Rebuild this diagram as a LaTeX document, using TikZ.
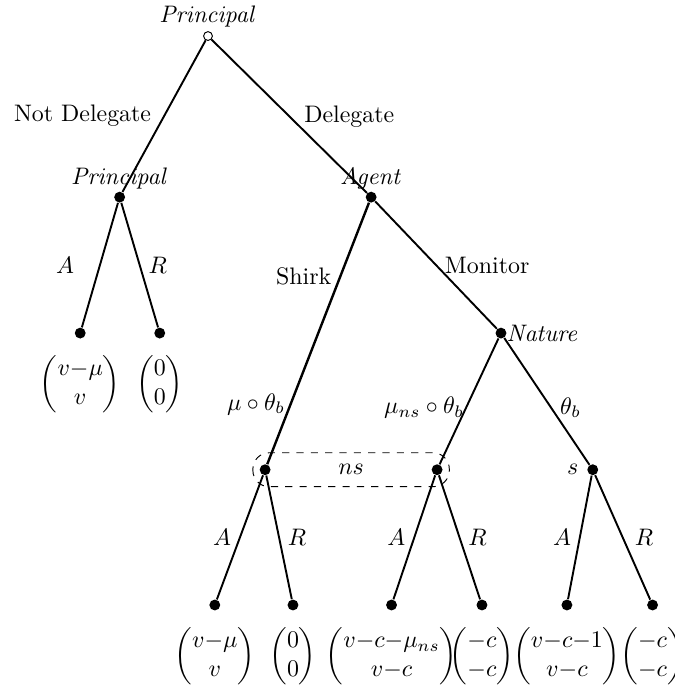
\documentclass[tikz,border=0pt]{standalone}
\usepackage{amsmath}
\usetikzlibrary{calc}
\begin{document}
\begin{tikzpicture}[
    dot/.style={circle, fill, inner sep=0pt, minimum size=1.6mm},
    root/.style={circle, draw, fill=white, inner sep=0pt, minimum size=1.3mm},
    branch/.style={thick},
    pinlabel/.style={font=\normalsize},
    payoff/.style={anchor=north, yshift=-1.2mm},
    infoset/.style={dashed, rounded corners=2.4mm}
]
\useasboundingbox (0,0) rectangle (9.93,-10.18);

% --- PLAYERS ---
\node[dot] (agent) at (5.46,-2.90) {};
\node[dot] (pdec) at (1.76,-2.90) {};
\node[dot] (nature) at (7.37,-4.90) {};
\node[root] (start) at (3.06,-0.53) {};
\node[pinlabel,anchor=south] at ([yshift=-0.6mm]start.north) {$\mathit{Principal}$};
\node[pinlabel,anchor=south] at ([yshift=-0.9mm]pdec.north) {$\mathit{Principal}$};
\node[pinlabel,anchor=south] at ([yshift=-0.9mm]agent.north) {$\mathit{Agent}$};
\node[pinlabel,anchor=west] at ([xshift=-1.3mm]nature.east) {$\mathit{Nature}$};

% --- INFORMATION SET ---
\node[dot] (nsl) at (3.90,-6.91) {};
\node[dot] (nsr) at (6.43,-6.91) {};
\node[dot] (sig) at (8.72,-6.91) {};
\node[pinlabel,anchor=east] at (sig.west) {$s$};
\draw[infoset] ([xshift=-1.8mm,yshift=2.5mm]nsl.center) rectangle ([xshift=1.8mm,yshift=-2.5mm]nsr.center);
\node[pinlabel] at ($(nsl)!0.5!(nsr)$) {$ns$};

% --- LEAVES ---
\node[dot] (la) at (1.18,-4.90) {};
\node[dot] (lr) at (2.35,-4.90) {};
\node[dot] (ba) at (3.16,-8.90) {};
\node[dot] (br) at (4.31,-8.90) {};
\node[dot] (ma) at (5.76,-8.90) {};
\node[dot] (mr) at (7.09,-8.90) {};
\node[dot] (sa) at (8.34,-8.90) {};
\node[dot] (sr) at (9.60,-8.90) {};

% payoffs
\node[payoff] at (la.south) {$\begin{pmatrix} v{-}\mu\\ v\end{pmatrix}$};
\node[payoff] at (lr.south) {$\begin{pmatrix} 0\\ 0\end{pmatrix}$};
\node[payoff] at (ba.south) {$\begin{pmatrix} v{-}\mu\\ v\end{pmatrix}$};
\node[payoff] at (br.south) {$\begin{pmatrix} 0\\ 0\end{pmatrix}$};
\node[payoff] at (ma.south) {$\begin{pmatrix} v{-}c{-}\mu_{ns}\\ v{-}c\end{pmatrix}$};
\node[payoff] at (mr.south) {$\begin{pmatrix} -c\\ -c\end{pmatrix}$};
\node[payoff] at (sa.south) {$\begin{pmatrix} v{-}c{-}1\\ v{-}c\end{pmatrix}$};
\node[payoff] at (sr.south) {$\begin{pmatrix} -c\\ -c\end{pmatrix}$};

% --- BRANCHES ---
\draw[branch] (start) -- node[left, xshift=-0.6mm] {Not Delegate} (pdec);
\draw[branch] (start) -- node[right, xshift=0.9mm] {Delegate} (agent);
\draw[branch] (pdec) -- node[left, xshift=-2.5mm] {$A$} (la);
\draw[branch] (pdec) -- node[right] {$R$} (lr);
\draw[branch, line width=1pt] (agent) -- node[left, pos=0.28] {Shirk}
                         node[left, pos=0.77, xshift=0.5mm] {$\mu\circ\theta_b$} (nsl);
\draw[branch] (agent) -- node[right] {Monitor} (nature);
\draw[branch] (nature) -- node[left, pos=0.55, xshift=1mm] {$\mu_{ns}\circ\theta_b$} (nsr);
\draw[branch] (nature) -- node[right, pos=0.55] {$\theta_b$} (sig);
\draw[branch] (nsl) -- node[left] {$A$} (ba);
\draw[branch] (nsl) -- node[right] {$R$} (br);
\draw[branch] (nsr) -- node[left] {$A$} (ma);
\draw[branch] (nsr) -- node[right] {$R$} (mr);
\draw[branch] (sig) -- node[left] {$A$} (sa);
\draw[branch] (sig) -- node[right, xshift=0.5mm] {$R$} (sr);

\end{tikzpicture}
\end{document}
